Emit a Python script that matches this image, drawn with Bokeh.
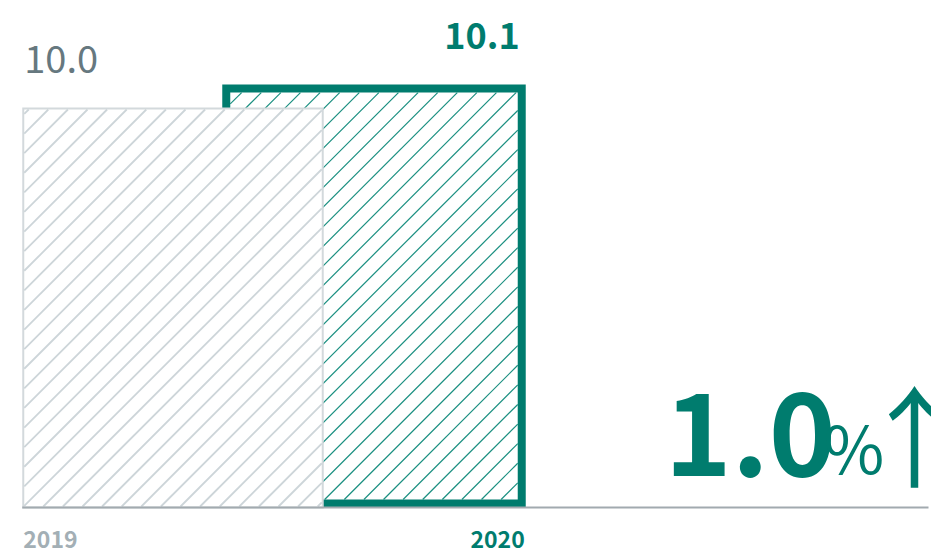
import numpy as np
from bokeh.plotting import figure
from bokeh.models import Range1d
from bokeh.core.properties import value
from bokeh.embed import file_html
from bokeh.resources import INLINE

# ---- data ----
years = ["2019", "2020"]
values = [10.0, 10.1]
value_labels = ["10.0", "10.1"]
change_number = "1.0"
change_unit = "%"
change_arrow = "↑"
axis_floor = 8.0

# ---- style ----
W, H = 931, 556
GREEN = "#007c6e"
GREEN_HATCH = "#1a8f80"
GRAY_BORDER = "#d3d9dc"
GRAY_HATCH = "#cdd5d9"
GRAY_VALUE = "#66787f"
GRAY_YEAR = "#a3afb5"
BASE = "#a2aaaf"
FONT = "Noto Sans CJK KR"
BASELINE_FIX = 0.39   # em correction for alphabetic baseline placement

PPX = 201.0      # pixels per x unit
PPY = 199.5      # pixels per y unit
x0 = -172.5 / PPX
y_top = axis_floor + 507 / PPY

def px_x(px):
    return x0 + px / PPX

def px_y(py):
    return y_top - py / PPY

def to_px_x(x):
    return (x - x0) * PPX

def to_px_y(y):
    return (y_top - y) * PPY

p = figure(width=W, height=H, output_backend="svg", toolbar_location=None,
           x_range=Range1d(x0, x0 + W / PPX), y_range=Range1d(y_top - H / PPY, y_top),
           x_axis_location=None, y_axis_location=None, min_border=0,
           outline_line_color=None, background_fill_color="white",
           border_fill_color="white")
p.grid.visible = False

pos = list(range(len(years)))
widths = [1.49, 1.47]
lw = [2, 8]
HATCH_STEP = 19.6


def hatch(left, right, bottom, top, inset, color, weight):
    # 45-degree "/" lines clipped to the bar interior, computed in pixel space
    L = to_px_x(left) + inset
    R = to_px_x(right) - inset
    T = to_px_y(top) + inset
    B = to_px_y(bottom) - inset
    xs0, ys0, xs1, ys1 = [], [], [], []
    k0 = int(np.floor((L + T) / HATCH_STEP))
    k1 = int(np.ceil((R + B) / HATCH_STEP))
    for k in range(k0, k1 + 1):
        c = k * HATCH_STEP
        lo = max(L, c - B)
        hi = min(R, c - T)
        if hi - lo > 0.5:
            xs0.append(px_x(lo)); ys0.append(px_y(c - lo))
            xs1.append(px_x(hi)); ys1.append(px_y(c - hi))
    p.segment(x0=xs0, y0=ys0, x1=xs1, y1=ys1, line_color=color, line_width=weight)


def bar(i, border, hcolor, hweight, bottom_lift):
    left = pos[i] - widths[i] / 2
    right = pos[i] + widths[i] / 2
    bottom = axis_floor + bottom_lift / PPY
    top = values[i]
    p.quad(left=[left], right=[right], bottom=[bottom], top=[top],
           fill_color="white", line_color=border, line_width=lw[i],
           line_join="miter")
    hatch(left, right, bottom, top, lw[i] / 2, hcolor, hweight)


bar(1, GREEN, GREEN_HATCH, 1.2, lw[1] / 2)     # 2020 behind
bar(0, GRAY_BORDER, GRAY_HATCH, 1.8, 0)        # 2019 in front

# baseline
p.segment(x0=[pos[0] - widths[0] / 2 - 1 / PPX], x1=[px_x(928)],
          y0=[axis_floor], y1=[axis_floor], line_color=BASE, line_width=2)


def label(x, y, txt, size, color, align, dy=0, dx=0, bold=False):
    p.text(x=[x], y=[y], text=[txt], text_font=value(FONT),
           text_font_size=f"{size}px", text_font_style="bold" if bold else "normal",
           text_color=color, text_align=align, text_baseline="alphabetic",
           x_offset=dx, y_offset=dy - BASELINE_FIX * size)


# value labels
label(pos[0] - widths[0] / 2, values[0], value_labels[0], 38, GRAY_VALUE, "left", dy=-35, dx=1)
label(pos[1] + widths[1] / 2, values[1], value_labels[1], 36, GREEN, "right", dy=-39, dx=-2, bold=True)

# year labels
label(pos[0] - widths[0] / 2, axis_floor, years[0], 23, GRAY_YEAR, "left", dy=41, dx=0, bold=True)
label(pos[1] + widths[1] / 2, axis_floor, years[1], 23, GREEN, "right", dy=41, dx=3, bold=True)

# change indicator
label(px_x(664), px_y(478), change_number, 114, GREEN, "left", bold=True)
label(px_x(823), px_y(478), change_unit, 66, GREEN, "left", dy=-8)
label(px_x(914), px_y(478), change_arrow, 110, GREEN, "center", dy=-5)

open("out.html", "w").write(file_html(p, INLINE))
